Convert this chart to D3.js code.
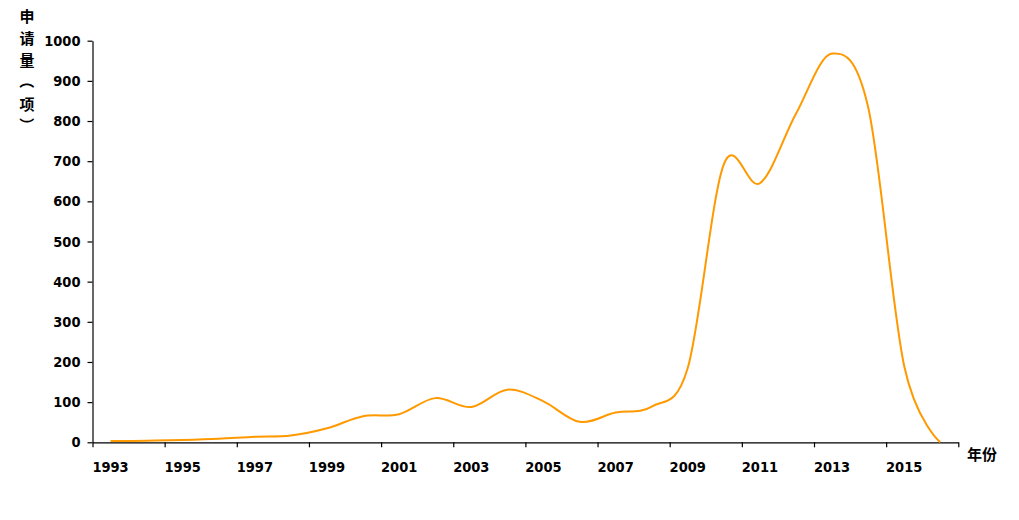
<!DOCTYPE html>
<html>
<head>
<meta charset="utf-8">
<script src="https://cdn.jsdelivr.net/npm/d3@7"></script>
<style>
  html, body { margin: 0; padding: 0; background: #fff; }
  svg text { font-family: "DejaVu Sans Condensed", "DejaVu Sans", sans-serif; font-weight: bold; fill: #000; }
</style>
</head>
<body>
<svg id="chart" width="1019" height="520"></svg>
<script>
const years = [1993,1994,1995,1996,1997,1998,1999,2000,2001,2002,2003,2004,2005,2006,2007,2008,2009,2010,2011,2012,2013,2014,2015,2016];
const counts = [3,4,6,9,14,17,35,65,70,110,88,131,102,51,74,89,185,692,645,818,968,835,190,0];
const yTicks = [0,100,200,300,400,500,600,700,800,900,1000];
const xLabels = [1993,1995,1997,1999,2001,2003,2005,2007,2009,2011,2013,2015];
const yTitle = ["申","请","量","（","项","）"];
const xTitle = "年份";

const svg = d3.select("#chart");
const mLeft = 92.5, mRight = 958.3, mTop = 40.7, mBottom = 442.3;
const numFont = "'DejaVu Sans Condensed', 'DejaVu Sans', sans-serif";

const x = d3.scaleBand().domain(years).range([mLeft, mRight]).padding(0);
const xb = d3.scaleLinear().domain([0, years.length]).range([mLeft, mRight]);
const y = d3.scaleLinear().domain([0, 1000]).range([mBottom, mTop]);

// y axis
const yAxis = svg.append("g").attr("transform", `translate(${mLeft},0)`)
  .call(d3.axisLeft(y).tickValues(yTicks).tickFormat(d3.format("d")).tickSize(5).tickSizeOuter(0).tickPadding(7));
yAxis.select(".domain").attr("stroke", "#000").attr("stroke-width", 1.2);
yAxis.selectAll(".tick line").attr("stroke", "#000").attr("stroke-width", 1.2);
yAxis.selectAll(".tick text").style("font-size", "14.5px").style("font-family", numFont).style("font-weight", "bold");

// x axis ticks (every 2 categories)
const xTickAxis = svg.append("g").attr("transform", `translate(0,${mBottom})`)
  .call(d3.axisBottom(xb).tickValues(d3.range(0, years.length + 1, 2)).tickSize(5).tickSizeOuter(0).tickFormat(""));
xTickAxis.select(".domain").attr("stroke", "#000").attr("stroke-width", 1.2);
xTickAxis.selectAll(".tick line").attr("stroke", "#000").attr("stroke-width", 1.2);

// x labels at category centers
const xLabAxis = svg.append("g").attr("transform", `translate(0,${mBottom})`)
  .call(d3.axisBottom(x).tickValues(xLabels).tickSize(0).tickPadding(19));
xLabAxis.select(".domain").remove();
xLabAxis.selectAll(".tick text").style("font-size", "14.5px").style("font-family", numFont).style("font-weight", "bold");

// line
const line = d3.line()
  .x((d, i) => x(years[i]) + x.bandwidth() / 2)
  .y(d => y(d))
  .curve(d3.curveCatmullRom.alpha(0));
svg.append("path").datum(counts)
  .attr("d", line)
  .attr("fill", "none")
  .attr("stroke", "#FF9900")
  .attr("stroke-width", 2);

// y title (vertical, brackets rotated)
svg.append("g").selectAll("text").data(yTitle).join("text")
  .attr("x", 0)
  .attr("y", 0)
  .attr("text-anchor", "middle")
  .attr("dominant-baseline", "central")
  .attr("transform", (d, i) => {
    const cy = 15 + i * 22;
    const rot = (d === "（" || d === "）") ? 90 : 0;
    return `translate(27,${cy}) rotate(${rot})`;
  })
  .style("font-family", "'Noto Sans CJK SC'")
  .style("font-size", "15px")
  .style("font-weight", "bold")
  .text(d => d);

// x title
svg.append("text")
  .attr("x", 967).attr("y", 460)
  .style("font-family", "'Noto Sans CJK SC'")
  .style("font-size", "15px")
  .style("font-weight", "bold")
  .text(xTitle);
</script>
</body>
</html>
